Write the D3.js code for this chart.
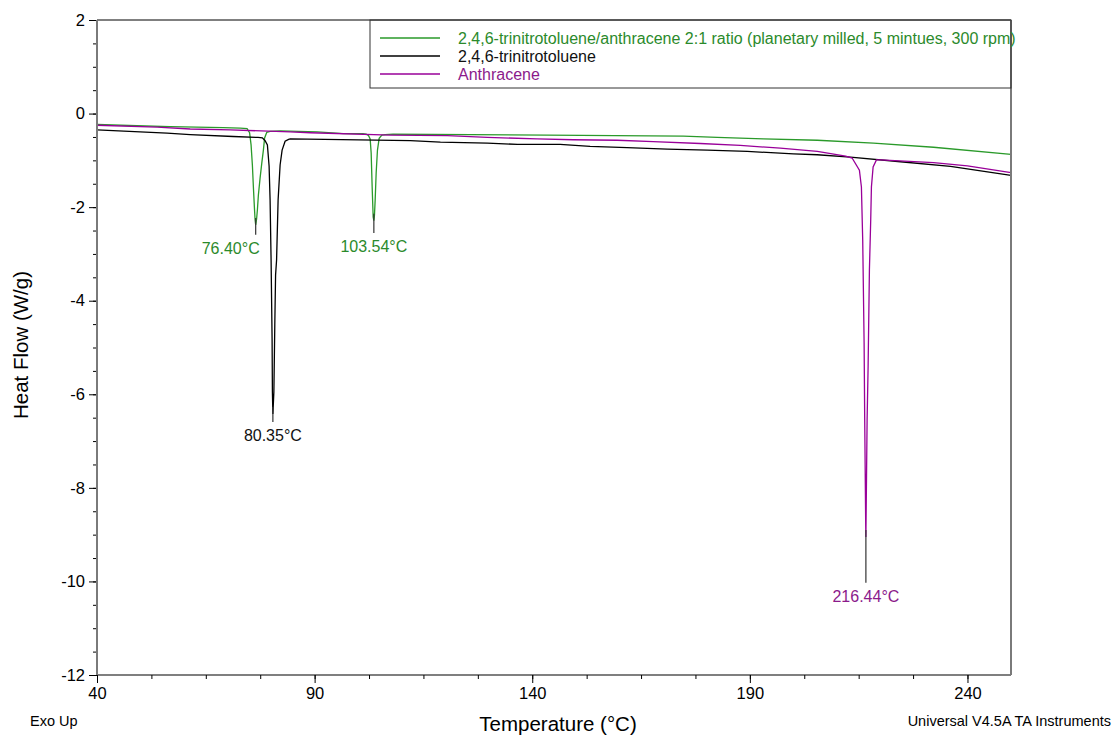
<!DOCTYPE html>
<html>
<head>
<meta charset="utf-8">
<script src="https://cdn.jsdelivr.net/npm/d3@7"></script>
<style>
  body { margin: 0; background: #fff; }
  svg { font-family: "Liberation Sans", Arial, sans-serif; }
</style>
</head>
<body>
<div id="container"></div>
<script>
// DSC traces, [temperature °C, heat flow W/g]
const mixData = [
  [40, -0.23], [49.2, -0.26], [56.8, -0.28], [69.0, -0.30], [72.9, -0.31], [74.48, -0.32],
  [75.06, -0.41], [75.40, -0.67], [75.70, -1.10], [75.93, -1.57], [76.16, -2.00], [76.32, -2.27],
  [76.46, -2.38], [76.67, -2.25], [76.85, -2.06], [77.08, -1.74], [77.47, -1.38], [77.86, -1.06],
  [78.23, -0.78], [78.51, -0.52], [79.01, -0.40], [79.77, -0.38], [82.1, -0.37], [90.6, -0.39],
  [96.6, -0.43], [101.1, -0.43], [101.84, -0.44], [102.37, -0.47], [102.76, -0.54], [102.99, -0.84],
  [103.22, -1.57], [103.45, -2.21], [103.61, -2.29], [103.75, -2.17], [103.91, -1.85], [104.14, -1.27],
  [104.44, -0.78], [104.83, -0.53], [105.45, -0.46], [106.21, -0.45], [108.0, -0.44], [143.4, -0.46],
  [174.7, -0.48], [182.5, -0.51], [193.1, -0.54], [205.5, -0.57], [218.4, -0.63], [232.2, -0.72],
  [250, -0.87]
]

const tntData = [
  [40, -0.35], [49.9, -0.39], [56.1, -0.42], [61.4, -0.45], [71.3, -0.49], [77.0, -0.51],
  [78.0, -0.52], [78.62, -0.58], [79.15, -0.67], [79.54, -1.12], [79.77, -1.85], [80.00, -3.13],
  [80.23, -4.84], [80.30, -5.95], [80.41, -6.42], [80.64, -5.95], [80.85, -4.52], [81.03, -3.45],
  [81.26, -3.13], [81.61, -1.85], [82.07, -1.10], [82.53, -0.78], [83.22, -0.59], [84.02, -0.55],
  [84.4, -0.54], [112.0, -0.58], [118.9, -0.61], [129.7, -0.63], [136.6, -0.66], [146.4, -0.66],
  [153.3, -0.70], [161.8, -0.73], [171.0, -0.76], [180.2, -0.78], [189.4, -0.81], [200.0, -0.86],
  [205.5, -0.88], [213.1, -0.93], [224.6, -1.03], [236.1, -1.13], [250, -1.32]
]

const anthData = [
  [40, -0.25], [53.8, -0.29], [61.4, -0.33], [70.6, -0.35], [84.4, -0.39], [89.0, -0.41],
  [107.4, -0.46], [120.5, -0.47], [129.7, -0.51], [141.1, -0.54], [149.4, -0.56], [159.5, -0.57],
  [167.8, -0.60], [178.6, -0.64], [187.8, -0.68], [197.0, -0.74], [205.5, -0.81], [212.0, -0.91],
  [213.49, -0.95], [215.17, -1.21], [215.63, -1.57], [215.93, -2.70], [216.25, -4.90], [216.39, -6.55],
  [216.62, -8.83], [216.66, -9.05], [216.94, -6.55], [217.17, -5.41], [217.47, -3.34], [217.77, -2.27],
  [217.93, -1.57], [218.32, -1.14], [219.08, -0.99], [220.0, -0.99], [232.2, -1.05], [240.0, -1.12],
  [250, -1.26]
]

const seriesNames = [
  '2,4,6-trinitrotoluene/anthracene 2:1 ratio (planetary milled, 5 mintues, 300 rpm)',
  '2,4,6-trinitrotoluene',
  'Anthracene'
]
const seriesColors = ['#2a9a2a', '#000000', '#990099']
const labelColors = ['#2b8a2b', '#111111', '#8b1a8b']

// peak markers: temperature, curve minimum, marker end, label, series index
const peakTemps = [76.46, 103.61, 80.41, 216.66]
const peakMins = [-2.38, -2.29, -6.42, -9.05]
const peakEnds = [-2.59, -2.55, -6.59, -10.03]
const peakLabels = ['76.40°C', '103.54°C', '80.35°C', '216.44°C']
const peakSeries = [0, 0, 1, 2]
const peakLabelDx = [-25, 0, 0, 0]

const xMajor = [40, 90, 140, 190, 240]
const yMajor = [2, 0, -2, -4, -6, -8, -10, -12]

const W = 1115, H = 736
const pLeft = 97, pRight = 1011, pTop = 20, pBottom = 675

const svg = d3.select('#container').append('svg')
    .attr('width', W)
    .attr('height', H)

const x = d3.scaleLinear().domain([40, 250]).range([pLeft, pRight])
const y = d3.scaleLinear().domain([-12, 2]).range([pBottom, pTop])

//axes
const xMinor = d3.range(40, 250.01, 12.5)
const yMinor = d3.range(-12, 2.01, 0.5)
const plain = d => String(d)

svg.append('g')
    .attr('transform', 'translate(0,' + pBottom + ')')
    .call(d3.axisBottom(x).tickValues(xMinor).tickSize(4).tickFormat(''))
    .call(g => g.select('.domain').remove())
svg.append('g')
    .attr('transform', 'translate(0,' + pBottom + ')')
    .call(d3.axisBottom(x).tickValues(xMajor).tickSize(8).tickPadding(4).tickFormat(plain))
    .call(g => g.select('.domain').remove())
    .selectAll('text').attr('font-size', 16.5).attr('fill', '#000')

svg.append('g')
    .attr('transform', 'translate(' + pLeft + ',0)')
    .call(d3.axisLeft(y).tickValues(yMinor).tickSize(4).tickFormat(''))
    .call(g => g.select('.domain').remove())
svg.append('g')
    .attr('transform', 'translate(' + pLeft + ',0)')
    .call(d3.axisLeft(y).tickValues(yMajor).tickSize(8).tickPadding(4).tickFormat(plain))
    .call(g => g.select('.domain').remove())
    .selectAll('text').attr('font-size', 16.5).attr('fill', '#000')

svg.selectAll('.tick line').attr('stroke', '#000')

//curves
const line = d3.line()
    .x(d => x(d[0]))
    .y(d => y(d[1]))

const curves = [mixData, tntData, anthData]
svg.selectAll('path.curve')
    .data(curves)
    .enter()
    .append('path')
    .attr('class', 'curve')
    .attr('fill', 'none')
    .attr('stroke', (d, i) => seriesColors[i])
    .attr('stroke-width', 1.3)
    .attr('d', line)

//peak markers
peakTemps.forEach((t, i) => {
    svg.append('line')
        .attr('x1', x(t)).attr('x2', x(t))
        .attr('y1', y(peakMins[i] + 0.15)).attr('y2', y(peakEnds[i]))
        .attr('stroke', '#333')
        .attr('stroke-width', 1.2)
    svg.append('text')
        .attr('x', x(t) + peakLabelDx[i])
        .attr('y', y(peakEnds[i]) + 19)
        .attr('text-anchor', 'middle')
        .attr('font-size', 16)
        .attr('fill', labelColors[peakSeries[i]])
        .text(peakLabels[i])
})

//frame
svg.append('line').attr('x1', pLeft).attr('x2', pRight).attr('y1', pTop).attr('y2', pTop)
    .attr('stroke', '#000').attr('stroke-width', 1)
svg.append('line').attr('x1', pLeft).attr('x2', pRight).attr('y1', pBottom).attr('y2', pBottom)
    .attr('stroke', '#000').attr('stroke-width', 1.2)
svg.append('line').attr('x1', pLeft).attr('x2', pLeft).attr('y1', pTop).attr('y2', pBottom)
    .attr('stroke', '#7a7a7a').attr('stroke-width', 2)
svg.append('line').attr('x1', pRight).attr('x2', pRight).attr('y1', pTop).attr('y2', pBottom)
    .attr('stroke', '#7a7a7a').attr('stroke-width', 2)

//legend
const legend = svg.append('g')
legend.append('rect')
    .attr('x', 370).attr('y', pTop)
    .attr('width', pRight - 370).attr('height', 68)
    .attr('fill', 'none').attr('stroke', '#333').attr('stroke-width', 1)
seriesNames.forEach((name, i) => {
    const ly = 38 + i * 18
    legend.append('line')
        .attr('x1', 380).attr('x2', 440).attr('y1', ly).attr('y2', ly)
        .attr('stroke', seriesColors[i]).attr('stroke-width', 1.3)
    legend.append('text')
        .attr('x', 458).attr('y', ly + 5.5)
        .attr('font-size', 16)
        .attr('fill', labelColors[i])
        .text(name)
})

//titles
svg.append('text')
    .attr('transform', 'translate(28,' + 345 + ') rotate(-90)')
    .attr('text-anchor', 'middle')
    .attr('font-size', 20.5)
    .text('Heat Flow (W/g)')
svg.append('text')
    .attr('x', 558).attr('y', 731)
    .attr('text-anchor', 'middle')
    .attr('font-size', 20.5)
    .text('Temperature (°C)')
svg.append('text')
    .attr('x', 30).attr('y', 726)
    .attr('font-size', 14.5)
    .text('Exo Up')
svg.append('text')
    .attr('x', 1111).attr('y', 726)
    .attr('text-anchor', 'end')
    .attr('font-size', 14.5)
    .text('Universal V4.5A TA Instruments')
</script>
</body>
</html>
